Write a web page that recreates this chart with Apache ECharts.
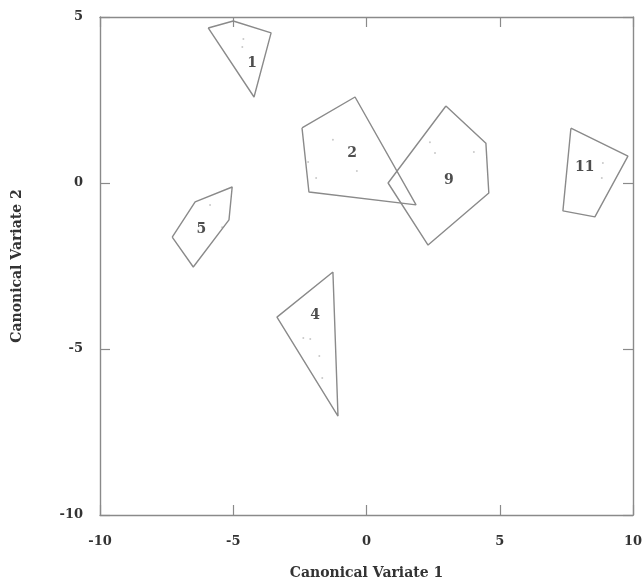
<!DOCTYPE html>
<html><head><meta charset="utf-8">
<script src="https://cdn.jsdelivr.net/npm/echarts@6/dist/echarts.min.js"></script>
<style>html,body{margin:0;padding:0;background:#fff}#c{width:642px;height:581px}</style>
</head><body><div id="c"></div>
<script>
// Group hulls (canonical variate 1, canonical variate 2)
const group1 = [[-5.94, 4.67], [-5.0, 4.88], [-3.58, 4.52], [-4.22, 2.59]];
const group2 = [[-2.42, 1.66], [-0.43, 2.59], [1.86, -0.66], [-2.16, -0.27]];
const group9 = [[2.98, 2.32], [4.48, 1.20], [4.59, -0.30], [2.31, -1.87], [0.81, 0.0]];
const group11 = [[7.67, 1.65], [9.81, 0.81], [8.57, -1.02], [7.37, -0.84]];
const group5 = [[-7.29, -1.63], [-6.43, -0.57], [-5.04, -0.12], [-5.16, -1.11], [-6.50, -2.53]];
const group4 = [[-1.26, -2.68], [-3.36, -4.04], [-1.07, -7.02]];
// interior observation points (faint)
const points = [[-4.62, 4.34], [-4.66, 4.10], [-1.26, 1.30], [-0.36, 0.36], [-2.19, 0.63], [-1.89, 0.15],
  [2.38, 1.23], [2.57, 0.90], [4.03, 0.93], [8.87, 0.60], [8.83, 0.15],
  [-5.87, -0.66], [-5.42, -1.33], [-2.37, -4.67], [-2.11, -4.70], [-1.77, -5.21], [-1.66, -5.87]];
// group labels
const labelNames = ['1', '2', '9', '11', '5', '4'];
const labelPos = [[-4.29, 3.61], [-0.54, 0.90], [3.09, 0.09], [8.19, 0.48], [-6.2, -1.39], [-1.93, -3.98]];
const xTicks = [-10, -5, 0, 5, 10];
const yTicks = [-10, -5, 0, 5];

const groups = [group1, group2, group9, group11, group5, group4];
const serif = '"DejaVu Serif", "Liberation Serif", serif';
const axisCol = '#8a8a8a';
const lineSeries = groups.map(g => ({
  type: 'line', data: g.concat([g[0]]), symbol: 'none', silent: true,
  lineStyle: {color: '#8a8a8a', width: 1.4}, z: 3
}));
const baseAxis = {
  min: -10, interval: 5,
  axisLine: {show: true, onZero: false, lineStyle: {color: axisCol, width: 1.4}},
  axisTick: {show: true, inside: true, length: 10, lineStyle: {color: axisCol, width: 1.2}},
  splitLine: {show: false}
};
const chart = echarts.init(document.getElementById('c'));
chart.setOption({
  animation: false,
  backgroundColor: '#fff',
  grid: {left: 100, right: 9, top: 17, bottom: 66, containLabel: false, outerBoundsMode: 'none'},
  xAxis: [
    Object.assign({}, baseAxis, {type: 'value', max: 10, position: 'bottom',
      name: 'Canonical Variate 1', nameLocation: 'middle', nameGap: 51,
      nameTextStyle: {fontFamily: serif, fontWeight: 'bold', fontSize: 14, color: '#333'},
      axisLabel: {fontFamily: serif, fontWeight: 'bold', fontSize: 13, color: '#333', margin: 20,
        formatter: v => xTicks.includes(v) ? String(v) : ''}}),
    Object.assign({}, baseAxis, {type: 'value', max: 10, position: 'top', axisLabel: {show: false}})
  ],
  yAxis: [
    Object.assign({}, baseAxis, {type: 'value', max: 5, position: 'left',
      name: 'Canonical Variate 2', nameLocation: 'middle', nameGap: 76, nameRotate: 90,
      nameTextStyle: {fontFamily: serif, fontWeight: 'bold', fontSize: 14, color: '#333'},
      axisLabel: {fontFamily: serif, fontWeight: 'bold', fontSize: 13, color: '#333', margin: 17,
        formatter: v => yTicks.includes(v) ? String(v) : ''}}),
    Object.assign({}, baseAxis, {type: 'value', max: 5, position: 'right', axisLabel: {show: false}})
  ],
  series: lineSeries.concat([
    {type: 'scatter', data: points, symbolSize: 2, itemStyle: {color: '#bbbbbb'}, silent: true, z: 2},
    {type: 'scatter', data: labelPos.map((p, i) => ({value: p, name: labelNames[i]})),
      symbolSize: 0, silent: true, z: 5,
      label: {show: true, position: 'inside', formatter: p => p.name,
        fontFamily: serif, fontWeight: 'bold', fontSize: 14, color: '#222'}}
  ])
});
</script></body></html>
